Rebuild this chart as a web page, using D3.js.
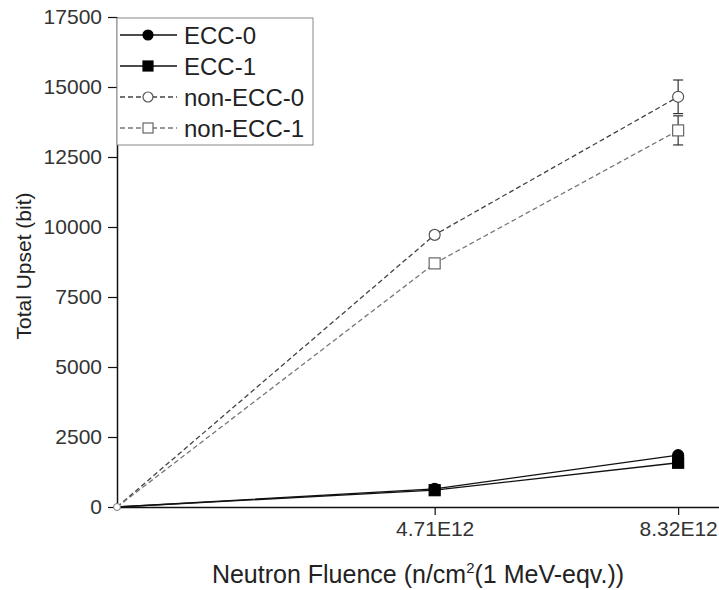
<!DOCTYPE html>
<html>
<head>
<meta charset="utf-8">
<script src="https://cdn.jsdelivr.net/npm/d3@7"></script>
<style>
  html, body { margin: 0; padding: 0; background: #fff; }
  svg { display: block; font-family: "Liberation Sans", Arial, sans-serif; }
</style>
</head>
<body>
<svg id="chart" width="719" height="590"></svg>
<script>
// Neutron fluence points (units of 1E12 n/cm^2)
const fluence = [0, 4.71, 8.32];
const fluenceTickLabels = ["4.71E12", "8.32E12"];
const yTicks = [0, 2500, 5000, 7500, 10000, 12500, 15000, 17500];

// Total upsets per configuration
const ecc0 = [0, 650, 1850];
const ecc1 = [0, 600, 1580];
const nonEcc0 = [0, 9720, 14650];
const nonEcc1 = [0, 8700, 13450];
// Error bar half-widths
const nonEcc0Err = [0, 120, 600];
const nonEcc1Err = [0, 120, 520];

const seriesNames = ["ECC-0", "ECC-1", "non-ECC-0", "non-ECC-1"];

const svg = d3.select("#chart");
const x = d3.scaleLinear().domain([0, 9]).range([117, 724]);
const y = d3.scaleLinear().domain([0, 17500]).range([507, 17]);

const series = [
  { name: seriesNames[0], values: ecc0, err: null, shape: "circle", fill: "#000", stroke: "#000", line: "#111", dash: null },
  { name: seriesNames[1], values: ecc1, err: null, shape: "square", fill: "#000", stroke: "#000", line: "#111", dash: null },
  { name: seriesNames[2], values: nonEcc0, err: nonEcc0Err, shape: "circle", fill: "#fff", stroke: "#555", line: "#444", dash: "5,3" },
  { name: seriesNames[3], values: nonEcc1, err: nonEcc1Err, shape: "square", fill: "#fff", stroke: "#666", line: "#777", dash: "5,3" }
];

// Axes
const xAxis = d3.axisBottom(x)
  .tickValues(fluence.slice(1))
  .tickFormat((d, i) => fluenceTickLabels[i])
  .tickSize(8).tickSizeOuter(0);
const gx = svg.append("g").attr("transform", "translate(0,507)").call(xAxis);
gx.select(".domain").attr("stroke", "#111").attr("stroke-width", 1.5);
gx.selectAll(".tick line").attr("stroke", "#111").attr("stroke-width", 1.2);
gx.selectAll(".tick text").attr("fill", "#333").attr("font-size", 21).attr("y", 14).attr("dy", "0.71em");

const yAxis = d3.axisLeft(y)
  .tickValues(yTicks)
  .tickFormat(d3.format("d"))
  .tickSize(9).tickSizeOuter(0);
const gy = svg.append("g").attr("transform", "translate(117,0)").call(yAxis);
gy.select(".domain").attr("stroke", "#111").attr("stroke-width", 1.5);
gy.selectAll(".tick line").attr("stroke", "#111").attr("stroke-width", 1.2);
gy.selectAll(".tick text").attr("fill", "#333").attr("font-size", 21).attr("x", -15);

// Axis titles
const xTitle = svg.append("text")
  .attr("x", 418).attr("y", 583)
  .attr("text-anchor", "middle")
  .attr("font-size", 25).attr("fill", "#222");
xTitle.append("tspan").text("Neutron Fluence (n/cm");
xTitle.append("tspan").attr("font-size", 15).attr("dy", -10).text("2");
xTitle.append("tspan").attr("dy", 10).text("(1 MeV-eqv.))");

svg.append("text")
  .attr("transform", "translate(31,266) rotate(-90)")
  .attr("text-anchor", "middle")
  .attr("font-size", 21).attr("fill", "#222")
  .text("Total Upset (bit)");

// Lines
const line = d3.line().x((d, i) => x(fluence[i])).y(d => y(d));
series.forEach(s => {
  svg.append("path")
    .datum(s.values)
    .attr("fill", "none")
    .attr("stroke", s.line)
    .attr("stroke-width", 1.3)
    .attr("stroke-dasharray", s.dash)
    .attr("d", line);
});

// Error bars
series.filter(s => s.err).forEach(s => {
  s.values.forEach((v, i) => {
    const e = s.err[i];
    if (!e) return;
    const cx = x(fluence[i]);
    const g = svg.append("g").attr("stroke", "#333").attr("stroke-width", 1.2);
    g.append("line").attr("x1", cx).attr("x2", cx).attr("y1", y(v - e)).attr("y2", y(v + e));
    g.append("line").attr("x1", cx - 5).attr("x2", cx + 5).attr("y1", y(v + e)).attr("y2", y(v + e));
    g.append("line").attr("x1", cx - 5).attr("x2", cx + 5).attr("y1", y(v - e)).attr("y2", y(v - e));
  });
});

// Markers
function drawMarker(g, s, cx, cy, r) {
  if (s.shape === "circle") {
    g.append("circle").attr("cx", cx).attr("cy", cy).attr("r", r)
      .attr("fill", s.fill).attr("stroke", s.stroke).attr("stroke-width", 1.2);
  } else {
    g.append("rect").attr("x", cx - r).attr("y", cy - r).attr("width", 2 * r).attr("height", 2 * r)
      .attr("fill", s.fill).attr("stroke", s.stroke).attr("stroke-width", 1.2);
  }
}
series.forEach(s => {
  const g = svg.append("g");
  s.values.forEach((v, i) => {
    if (i === 0) return;
    drawMarker(g, s, x(fluence[i]), y(v), 5.5);
  });
});

// Origin marker shared by all series
svg.append("circle").attr("cx", x(0)).attr("cy", y(0)).attr("r", 3.5)
  .attr("fill", "#fff").attr("stroke", "#777").attr("stroke-width", 1);

// Legend
const legend = svg.append("g");
legend.append("rect")
  .attr("x", 117).attr("y", 18).attr("width", 196).attr("height", 127)
  .attr("fill", "#fff").attr("stroke", "#888").attr("stroke-width", 1);
series.forEach((s, i) => {
  const ly = 35 + i * 31;
  legend.append("line")
    .attr("x1", 120).attr("x2", 177).attr("y1", ly).attr("y2", ly)
    .attr("stroke", s.line).attr("stroke-width", 1.3)
    .attr("stroke-dasharray", s.dash);
  drawMarker(legend, s, 148, ly, 5);
  legend.append("text")
    .attr("x", 184).attr("y", ly).attr("dy", "0.36em")
    .attr("font-size", 24).attr("fill", "#222")
    .text(s.name);
});
</script>
</body>
</html>
